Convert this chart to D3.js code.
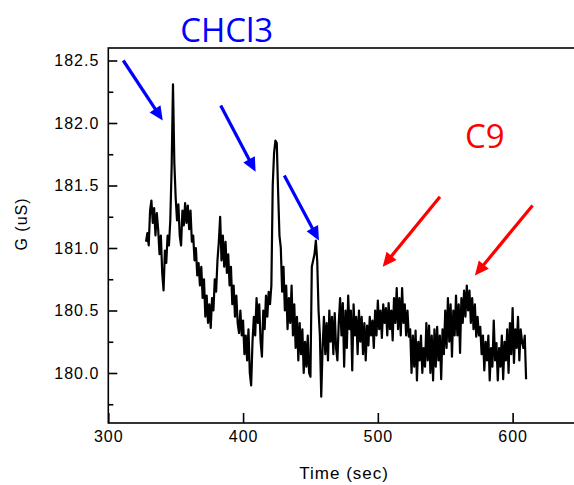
<!DOCTYPE html>
<html>
<head>
<meta charset="utf-8">
<script src="https://cdn.jsdelivr.net/npm/d3@7"></script>
<style>
  body { margin: 0; background: #fff; }
  svg { display: block; }
  .tick text { font-family: "Liberation Sans", Arial, sans-serif; font-size: 16px; letter-spacing: 1px; fill: #000; }
</style>
</head>
<body>
<div id="chart"></div>
<script>
// time in sec, conductance in uS
const time = [
  328, 329, 330, 331, 332, 333, 334, 335, 336, 337,
  338, 339, 340, 341, 342, 343, 344, 345, 346, 347,
  348, 349, 350, 351, 352, 353, 354, 355, 356, 357,
  358, 359, 360, 361, 362, 363, 364, 365, 366, 367,
  368, 369, 370, 371, 372, 373, 374, 375, 376, 377,
  378, 379, 380, 381, 382, 383, 384, 385, 386, 387,
  388, 389, 390, 391, 392, 393, 394, 395, 396, 397,
  398, 399, 400, 401, 402, 403, 404, 405, 406, 407,
  408, 409, 410, 411, 412, 413, 414, 415, 416, 417,
  418, 419, 420, 421, 422, 423, 424, 425, 426, 427,
  428, 429, 430, 431, 432, 433, 434, 435, 436, 437,
  438, 439, 440, 441, 442, 443, 444, 445, 446, 447,
  448, 449, 450, 451, 452, 453, 454, 455, 456, 457,
  458, 459, 460, 461, 462, 463, 464, 465, 466, 467,
  468, 469, 470, 471, 472, 473, 474, 475, 476, 477,
  478, 479, 480, 481, 482, 483, 484, 485, 486, 487,
  488, 489, 490, 491, 492, 493, 494, 495, 496, 497,
  498, 499, 500, 501, 502, 503, 504, 505, 506, 507,
  508, 509, 510, 511, 512, 513, 514, 515, 516, 517,
  518, 519, 520, 521, 522, 523, 524, 525, 526, 527,
  528, 529, 530, 531, 532, 533, 534, 535, 536, 537,
  538, 539, 540, 541, 542, 543, 544, 545, 546, 547,
  548, 549, 550, 551, 552, 553, 554, 555, 556, 557,
  558, 559, 560, 561, 562, 563, 564, 565, 566, 567,
  568, 569, 570, 571, 572, 573, 574, 575, 576, 577,
  578, 579, 580, 581, 582, 583, 584, 585, 586, 587,
  588, 589, 590, 591, 592, 593, 594, 595, 596, 597,
  598, 599, 600, 601, 602, 603, 604, 605, 606, 607,
  608, 609, 610
]
const G = [
  181.05, 181.12, 181.02, 181.3, 181.38, 181.2, 181.32, 181.1, 181.28, 181.15,
  180.95, 181.1, 180.8, 180.66, 180.98, 180.88, 181.1, 181.02, 181.22, 181.65,
  182.31, 181.68, 181.4, 181.22, 181.35, 181.1, 181.02, 181.3, 181.18, 181.36,
  181.2, 181.34, 181.15, 181.3, 181.05, 181.1, 180.9, 181.0, 180.78, 180.88,
  180.7, 180.85, 180.6, 180.75, 180.45, 180.62, 180.4, 180.55, 180.36, 180.6,
  180.5, 180.75, 180.65, 180.9, 181.05, 181.25, 180.9, 181.1, 180.85, 181.05,
  180.8, 180.95, 180.7, 180.85, 180.55, 180.7, 180.45, 180.62, 180.4, 180.32,
  180.5, 180.3, 180.42, 180.15, 180.3, 180.1, 180.35, 180.0, 179.9, 180.25,
  180.45, 180.3, 180.6, 180.4, 180.55, 180.25, 180.13, 180.5, 180.35, 180.62,
  180.45, 180.65, 180.55, 180.7, 181.5, 181.76, 181.86, 181.84, 181.45, 181.1,
  181.0, 180.65, 180.85, 180.5, 180.7, 180.35, 180.6, 180.4, 180.7, 180.3,
  180.55, 180.2, 180.45, 180.1, 180.4, 180.15, 180.35, 180.0, 180.25, 180.05,
  180.3, 180.0, 179.97, 180.85, 180.9, 180.95, 181.06, 180.9, 180.5, 180.3,
  179.81, 180.2, 180.45, 180.15, 180.4, 180.1, 180.5, 180.25, 180.45, 180.15,
  180.48, 180.2, 180.1, 180.4, 180.6, 180.3, 180.56, 180.05, 180.5, 180.2,
  180.62, 180.35, 180.5, 180.02, 180.55, 180.3, 180.45, 180.15, 180.5, 180.25,
  180.45, 180.15, 180.4, 180.1, 180.38, 180.22, 180.45, 180.3, 180.42, 180.2,
  180.5, 180.3, 180.58, 180.35, 180.5, 180.28, 180.55, 180.4, 180.52, 180.3,
  180.56, 180.35, 180.5, 180.26, 180.6, 180.4, 180.68, 180.35, 180.6, 180.3,
  180.68, 180.4, 180.55, 180.3, 180.5, 180.29, 180.35, 180.0, 180.3, 180.05,
  180.34, 179.94, 180.25, 180.1, 180.3, 180.0, 180.2, 180.05, 180.4, 180.1,
  180.38, 180.0, 180.3, 179.94, 180.35, 180.05, 180.37, 180.1, 180.3, 179.95,
  180.35, 180.15, 180.5, 180.2, 180.6, 180.25, 180.55, 180.13, 180.5, 180.3,
  180.62, 180.3, 180.55, 180.16, 180.6, 180.4, 180.66, 180.45, 180.7, 180.5,
  180.66, 180.4, 180.6, 180.35, 180.55, 180.29, 180.45, 180.3, 180.37, 180.15,
  180.3, 180.02, 180.25, 180.1, 180.3, 179.94, 180.2, 180.05, 180.42, 180.1,
  180.24, 179.94, 180.2, 180.05, 180.3, 179.95, 180.25, 180.1, 180.35, 180.0,
  180.4, 180.15, 180.52, 180.08, 180.35, 180.2, 180.45, 180.1, 180.35, 180.25,
  180.2, 180.3, 179.95
]

const xTicks = [300, 400, 500, 600]
const yTicks = [180.0, 180.5, 181.0, 181.5, 182.0, 182.5]
const yMinor = [179.75, 180.25, 180.75, 181.25, 181.75, 182.25]

// arrows: [t0, g0, t1, g1] tail -> head
const blueArrows = [
  [311.1, 182.5, 340.4, 182.02],
  [383.4, 182.14, 409.3, 181.61],
  [430.6, 181.58, 456.3, 181.06]
]
const redArrows = [
  [546.1, 181.41, 503.6, 180.85],
  [614.8, 181.34, 572.0, 180.78]
]
const labels = [
  { text: 'CHCl3', t: 353.3, g: 182.65, color: '#0000ff' },
  { text: 'C9', t: 564.6, g: 181.8, color: '#ff0000' }
]

var width = 574, height = 485
var svg = d3.select('#chart').append('svg')
    .attr('width', width)
    .attr('height', height)

var x = d3.scaleLinear().domain([300, 650]).range([108.3, 580])
var y = d3.scaleLinear().domain([179.6, 182.6]).range([423, 48])

// frame
svg.append('rect')
    .attr('x', x(300))
    .attr('y', y(182.6))
    .attr('width', x(650) - x(300))
    .attr('height', y(179.6) - y(182.6))
    .attr('fill', 'none')
    .attr('stroke', '#000')
    .attr('stroke-width', 1.6)

var xAxis = svg.append('g')
    .attr('transform', `translate(0,${y(179.6)})`)
    .call(d3.axisBottom(x).tickValues(xTicks).tickSize(-10).tickPadding(8).tickFormat(d3.format('d')))
xAxis.select('.domain').remove()
xAxis.selectAll('line').attr('stroke-width', 1.6)

var yAxis = svg.append('g')
    .attr('transform', `translate(${x(300)},0)`)
    .call(d3.axisLeft(y).tickValues(yTicks).tickSize(-9).tickPadding(9).tickFormat(d3.format('.1f')))
yAxis.select('.domain').remove()
yAxis.selectAll('line').attr('stroke-width', 1.6)

var yAxisMinor = svg.append('g')
    .attr('transform', `translate(${x(300)},0)`)
    .call(d3.axisLeft(y).tickValues(yMinor).tickSize(-5).tickFormat(''))
yAxisMinor.select('.domain').remove()
yAxisMinor.selectAll('line').attr('stroke-width', 1.6)

svg.append('text')
    .attr('x', x(475))
    .attr('y', 479)
    .attr('text-anchor', 'middle')
    .attr('font-family', '"Liberation Sans", Arial, sans-serif')
    .attr('font-size', 17)
    .attr('letter-spacing', 1)
    .text('Time (sec)')

svg.append('text')
    .attr('transform', 'translate(27,224) rotate(-90)')
    .attr('text-anchor', 'middle')
    .attr('font-family', '"Liberation Sans", Arial, sans-serif')
    .attr('font-size', 16)
    .attr('letter-spacing', 1)
    .text('G (uS)')

// data trace
var line = d3.line()
    .x((d, i) => x(time[i]))
    .y(d => y(d))

svg.append('path')
    .datum(G)
    .attr('d', line)
    .attr('fill', 'none')
    .attr('stroke', '#000')
    .attr('stroke-width', 2.2)
    .attr('stroke-linejoin', 'round')

function drawArrows(list, color) {
    list.forEach(a => {
        var x0 = x(a[0]), y0 = y(a[1]), x1 = x(a[2]), y1 = y(a[3])
        var dx = x1 - x0, dy = y1 - y0
        var len = Math.sqrt(dx * dx + dy * dy)
        var ux = dx / len, uy = dy / len
        var headL = 14, headW = 6.5
        var bx = x1 - ux * headL, by = y1 - uy * headL
        svg.append('line')
            .attr('x1', x0).attr('y1', y0)
            .attr('x2', bx + ux * 2).attr('y2', by + uy * 2)
            .attr('stroke', color)
            .attr('stroke-width', 3.2)
        svg.append('polygon')
            .attr('points', [
                [x1, y1],
                [bx - uy * headW, by + ux * headW],
                [bx + uy * headW, by - ux * headW]
            ].map(p => p.join(',')).join(' '))
            .attr('fill', color)
    })
}
drawArrows(blueArrows, '#0000ff')
drawArrows(redArrows, '#ff0000')

svg.selectAll('text.note')
    .data(labels)
    .join('text')
        .attr('class', 'note')
        .attr('x', d => x(d.t))
        .attr('y', d => y(d.g))
        .attr('fill', d => d.color)
        .attr('font-family', '"Open Sans", sans-serif')
        .attr('font-size', 33)
        .text(d => d.text)
</script>
</body>
</html>
